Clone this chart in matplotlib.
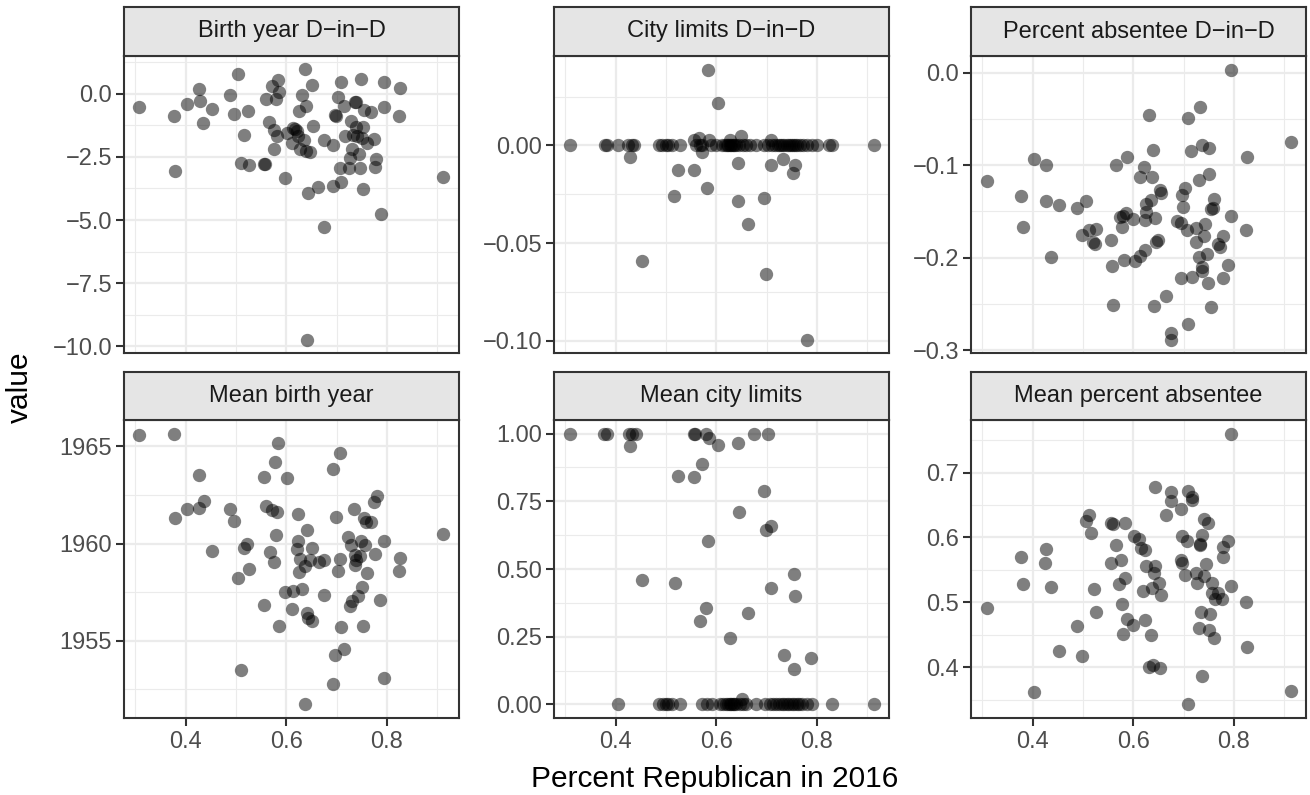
import numpy as np
import matplotlib
matplotlib.use("Agg")
import matplotlib.pyplot as plt
from matplotlib.ticker import FixedLocator, FuncFormatter

plt.rcParams['font.family'] = ['Liberation Sans', 'DejaVu Sans']

# --- data: one (x, value) list per facet, x = percent Republican in 2016 ---
birth_did_x = [0.308, 0.377, 0.380, 0.403, 0.426, 0.428, 0.435, 0.452, 0.488, 0.505,
               0.497, 0.524, 0.517, 0.511, 0.526, 0.556, 0.558, 0.560, 0.571, 0.584,
               0.586, 0.579, 0.566, 0.576, 0.582, 0.576, 0.598, 0.601, 0.614, 0.617,
               0.621, 0.611, 0.624, 0.635, 0.627, 0.640, 0.648, 0.637, 0.652, 0.631,
               0.639, 0.626, 0.654, 0.675, 0.693, 0.644, 0.664, 0.693, 0.708, 0.675,
               0.642, 0.708, 0.748, 0.703, 0.714, 0.736, 0.738, 0.697, 0.699, 0.754,
               0.769, 0.729, 0.739, 0.752, 0.716, 0.733, 0.741, 0.751, 0.760, 0.774,
               0.731, 0.745, 0.726, 0.706, 0.725, 0.747, 0.777, 0.779, 0.752, 0.788,
               0.794, 0.827, 0.794, 0.825, 0.912]
birth_did_y = [-0.52, -0.89, -3.05, -0.38, 0.20, -0.26, -1.17, -0.60, -0.04, 0.81,
               -0.79, -0.66, -1.64, -2.75, -2.82, -2.77, -2.77, -0.20, 0.31, 0.55,
               0.09, -0.20, -1.10, -1.44, -1.65, -2.18, -3.32, -1.55, -1.35, -1.38,
               -1.45, -1.94, -1.68, -1.81, -2.20, -2.27, -2.32, 0.97, 0.34, -0.04,
               -0.46, -0.67, -1.28, -1.81, -2.01, -3.94, -3.71, -3.67, -3.51, -5.26,
               -9.74, 0.48, 0.59, -0.14, -0.46, -0.30, -0.32, -0.83, -0.86, -0.63,
               -0.72, -1.06, -1.32, -1.32, -1.68, -1.61, -1.68, -1.74, -1.94, -1.78,
               -2.20, -2.40, -2.56, -2.92, -2.92, -2.95, -2.90, -2.60, -3.77, -4.78,
               0.48, 0.25, -0.50, -0.89, -3.28]

city_did_x = [0.310, 0.379, 0.383, 0.405, 0.425, 0.432, 0.436, 0.487, 0.493, 0.500,
              0.505, 0.512, 0.529, 0.560, 0.568, 0.572, 0.590, 0.600, 0.612, 0.617,
              0.621, 0.624, 0.627, 0.630, 0.633, 0.636, 0.640, 0.645, 0.653, 0.660,
              0.668, 0.680, 0.695, 0.703, 0.710, 0.716, 0.722, 0.727, 0.731, 0.735,
              0.740, 0.745, 0.748, 0.752, 0.756, 0.760, 0.766, 0.772, 0.780, 0.790,
              0.800, 0.825, 0.830, 0.913,
              0.555, 0.565, 0.585, 0.628, 0.650, 0.709,
              0.428, 0.571, 0.733, 0.453, 0.525, 0.517, 0.556, 0.581, 0.643, 0.644,
              0.664, 0.695, 0.709, 0.699, 0.583, 0.603, 0.757, 0.752, 0.781]
city_did_y = [0.0] * 54 + [
              0.0030, 0.0039, 0.0030, 0.0030, 0.0047, 0.0030,
              -0.0059, -0.0034, -0.0068, -0.0590, -0.0125, -0.0260, -0.0123, -0.0220,
              -0.0091, -0.0285, -0.0404, -0.0270, -0.0101, -0.0657, 0.0389, 0.0216,
              -0.0100, -0.0140, -0.0993]

absentee_did_x = [0.309, 0.377, 0.381, 0.402, 0.427, 0.426, 0.436, 0.453, 0.488, 0.507,
                  0.498, 0.513, 0.527, 0.520, 0.524, 0.556, 0.557, 0.566, 0.587, 0.573,
                  0.579, 0.585, 0.577, 0.599, 0.581, 0.560, 0.603, 0.613, 0.624, 0.631,
                  0.639, 0.621, 0.613, 0.637, 0.654, 0.655, 0.635, 0.626, 0.626, 0.623,
                  0.644, 0.646, 0.649, 0.641, 0.665, 0.676, 0.676, 0.694, 0.708, 0.717,
                  0.703, 0.696, 0.698, 0.695, 0.687, 0.707, 0.725, 0.724, 0.740, 0.743,
                  0.731, 0.746, 0.736, 0.737, 0.748, 0.754, 0.709, 0.732, 0.714, 0.736,
                  0.750, 0.730, 0.750, 0.760, 0.754, 0.758, 0.769, 0.773, 0.778, 0.788,
                  0.779, 0.794, 0.794, 0.827, 0.825, 0.913]
absentee_did_y = [-0.117, -0.133, -0.167, -0.093, -0.0995, -0.139, -0.199, -0.143, -0.146, -0.139,
                  -0.175, -0.170, -0.169, -0.183, -0.185, -0.181, -0.209, -0.100, -0.0906, -0.156,
                  -0.1545, -0.152, -0.167, -0.158, -0.203, -0.2515, -0.204, -0.198, -0.192, -0.046,
                  -0.083, -0.102, -0.1125, -0.113, -0.127, -0.130, -0.138, -0.142, -0.151, -0.159,
                  -0.157, -0.183, -0.181, -0.2526, -0.2415, -0.281, -0.2885, -0.222, -0.272, -0.221,
                  -0.125, -0.132, -0.1455, -0.162, -0.160, -0.170, -0.168, -0.1825, -0.176, -0.1635,
                  -0.199, -0.196, -0.210, -0.214, -0.227, -0.253, -0.049, -0.037, -0.085, -0.078,
                  -0.081, -0.116, -0.1096, -0.136, -0.147, -0.146, -0.185, -0.188, -0.176, -0.208,
                  -0.222, -0.155, 0.0036, -0.0916, -0.170, -0.0744]

mean_birth_x = [0.308, 0.377, 0.380, 0.403, 0.427, 0.426, 0.436, 0.452, 0.488, 0.497,
                0.505, 0.517, 0.522, 0.526, 0.511, 0.556, 0.560, 0.571, 0.582, 0.577,
                0.584, 0.602, 0.579, 0.567, 0.575, 0.555, 0.586, 0.597, 0.614, 0.631,
                0.612, 0.624, 0.624, 0.621, 0.627, 0.637, 0.626, 0.642, 0.652, 0.648,
                0.665, 0.675, 0.675, 0.642, 0.644, 0.652, 0.637, 0.693, 0.707, 0.698,
                0.707, 0.703, 0.708, 0.696, 0.714, 0.693, 0.723, 0.735, 0.729, 0.749,
                0.756, 0.736, 0.738, 0.746, 0.736, 0.754, 0.758, 0.769, 0.774, 0.780,
                0.761, 0.750, 0.743, 0.731, 0.726, 0.752, 0.777, 0.794, 0.787, 0.794,
                0.827, 0.825, 0.912]
mean_birth_y = [1965.58, 1965.65, 1961.30, 1961.75, 1963.52, 1961.85, 1962.17, 1959.60, 1961.78, 1961.18,
                1958.22, 1959.77, 1959.97, 1958.71, 1953.52, 1963.40, 1961.95, 1961.71, 1961.61, 1964.17,
                1965.17, 1963.35, 1960.45, 1959.58, 1959.05, 1956.84, 1955.77, 1957.52, 1957.56, 1957.64,
                1956.62, 1961.54, 1960.11, 1959.74, 1959.22, 1958.83, 1958.53, 1960.67, 1959.77, 1959.17,
                1959.05, 1959.17, 1957.37, 1956.45, 1956.19, 1956.02, 1951.73, 1963.82, 1964.66, 1961.37,
                1959.22, 1958.58, 1955.72, 1954.27, 1954.56, 1952.79, 1960.32, 1961.76, 1959.91, 1960.14,
                1959.91, 1959.43, 1959.17, 1959.34, 1958.92, 1961.30, 1961.10, 1961.10, 1962.15, 1962.46,
                1958.49, 1957.76, 1957.30, 1957.04, 1956.79, 1955.77, 1959.46, 1960.14, 1957.08, 1953.09,
                1959.26, 1958.58, 1960.49]

mean_city_x = [0.310, 0.378, 0.383, 0.427, 0.432, 0.440, 0.555, 0.558, 0.579, 0.676, 0.702,
               0.586, 0.428, 0.603, 0.643, 0.524, 0.556, 0.571, 0.695, 0.645, 0.698,
               0.709, 0.583, 0.453, 0.518, 0.709, 0.580, 0.567, 0.664, 0.627, 0.735,
               0.755, 0.757, 0.755, 0.789, 0.652,
               0.405, 0.487, 0.495, 0.500, 0.505, 0.512, 0.529, 0.571, 0.581, 0.591,
               0.607, 0.614, 0.620, 0.624, 0.627, 0.630, 0.633, 0.636, 0.640, 0.647,
               0.653, 0.660, 0.680, 0.696, 0.706, 0.712, 0.718, 0.724, 0.730, 0.735,
               0.740, 0.745, 0.750, 0.755, 0.760, 0.765, 0.770, 0.780, 0.790, 0.830,
               0.913]
mean_city_y = [1.0] * 11 + [
               0.984, 0.955, 0.957, 0.966, 0.845, 0.841, 0.887, 0.789, 0.712, 0.645,
               0.657, 0.602, 0.458, 0.449, 0.430, 0.357, 0.307, 0.339, 0.247, 0.184,
               0.480, 0.400, 0.130, 0.170, 0.021] + [0.0] * 41

mean_absentee_x = [0.309, 0.377, 0.381, 0.402, 0.427, 0.425, 0.436, 0.453, 0.488, 0.498,
                   0.506, 0.512, 0.517, 0.523, 0.527, 0.556, 0.556, 0.560, 0.583, 0.566,
                   0.575, 0.583, 0.572, 0.577, 0.587, 0.579, 0.599, 0.601, 0.611, 0.616,
                   0.624, 0.626, 0.620, 0.644, 0.642, 0.637, 0.651, 0.655, 0.623, 0.636,
                   0.631, 0.639, 0.654, 0.644, 0.676, 0.676, 0.665, 0.694, 0.708, 0.717,
                   0.716, 0.697, 0.707, 0.695, 0.697, 0.703, 0.725, 0.727, 0.740, 0.748,
                   0.737, 0.732, 0.733, 0.745, 0.741, 0.756, 0.756, 0.763, 0.769, 0.776,
                   0.735, 0.753, 0.730, 0.750, 0.760, 0.736, 0.709, 0.779, 0.788, 0.779,
                   0.794, 0.794, 0.825, 0.827, 0.913]
mean_absentee_y = [0.4915, 0.570, 0.529, 0.362, 0.582, 0.560, 0.524, 0.426, 0.464, 0.417,
                   0.625, 0.635, 0.607, 0.521, 0.485, 0.561, 0.623, 0.621, 0.622, 0.588,
                   0.566, 0.538, 0.528, 0.497, 0.475, 0.452, 0.466, 0.602, 0.597, 0.584,
                   0.581, 0.556, 0.517, 0.556, 0.546, 0.523, 0.530, 0.512, 0.473, 0.450,
                   0.400, 0.404, 0.399, 0.677, 0.670, 0.656, 0.634, 0.644, 0.671, 0.663,
                   0.658, 0.603, 0.595, 0.565, 0.561, 0.543, 0.546, 0.530, 0.629, 0.622,
                   0.604, 0.589, 0.590, 0.559, 0.541, 0.530, 0.515, 0.505, 0.515, 0.506,
                   0.486, 0.483, 0.460, 0.458, 0.445, 0.387, 0.343, 0.585, 0.595, 0.570,
                   0.760, 0.525, 0.501, 0.431, 0.363]

panel_titles = ["Birth year D\u2212in\u2212D", "City limits D\u2212in\u2212D", "Percent absentee D\u2212in\u2212D",
                "Mean birth year", "Mean city limits", "Mean percent absentee"]
panel_x = [birth_did_x, city_did_x, absentee_did_x, mean_birth_x, mean_city_x, mean_absentee_x]
panel_y = [birth_did_y, city_did_y, absentee_did_y, mean_birth_y, mean_city_y, mean_absentee_y]

# y breaks and label decimals for each facet (free y scales)
y_breaks = [[0.0, -2.5, -5.0, -7.5, -10.0], [0.0, -0.05, -0.10], [0.0, -0.1, -0.2, -0.3],
            [1955, 1960, 1965], [0.0, 0.25, 0.5, 0.75, 1.0], [0.4, 0.5, 0.6, 0.7]]
y_decimals = [1, 2, 1, 0, 2, 1]
x_breaks = [0.4, 0.6, 0.8]
x_minor = [0.3, 0.5, 0.7, 0.9]

# --- layout in pixels ---
W, H = 1310, 795
fig = plt.figure(figsize=(W / 100, H / 100), dpi=100)
col_left = [124, 554, 971]
panel_w = 335
row_top = [56, 420]
panel_h = [297, 298]
strip_h = [49, 48]

grey20 = '#333333'
grid_col = '#EBEBEB'


def px_rect(left, top, width, height):
    return [left / W, 1 - (top + height) / H, width / W, height / H]


def fmt_factory(dec):
    def fmt(v, pos):
        s = f"{v:.{dec}f}"
        if s.startswith('-') and float(s) != 0:
            s = '\u2212' + s[1:]
        elif s.startswith('-'):
            s = s[1:]
        return s
    return fmt


def minor_between(breaks):
    b = sorted(breaks)
    step = b[1] - b[0]
    return [b[0] - step / 2] + [(b[i] + b[i + 1]) / 2 for i in range(len(b) - 1)] + [b[-1] + step / 2]


axes = []
for i in range(6):
    r, c = divmod(i, 3)
    ax = fig.add_axes(px_rect(col_left[c], row_top[r], panel_w, panel_h[r]),
                      sharex=axes[0] if axes else None)
    axes.append(ax)
    ax.set_facecolor('white')
    ax.scatter(panel_x[i], panel_y[i], s=92, color='black', alpha=0.5,
               linewidths=0, zorder=3)

    ax.yaxis.set_major_locator(FixedLocator(y_breaks[i]))
    ax.yaxis.set_minor_locator(FixedLocator(minor_between(y_breaks[i])))
    ax.yaxis.set_major_formatter(FuncFormatter(fmt_factory(y_decimals[i])))
    ax.xaxis.set_major_locator(FixedLocator(x_breaks))
    ax.xaxis.set_minor_locator(FixedLocator(x_minor))
    ax.xaxis.set_major_formatter(FuncFormatter(fmt_factory(1)))

    ax.grid(True, which='major', color=grid_col, linewidth=1.6, zorder=0)
    ax.grid(True, which='minor', color=grid_col, linewidth=0.8, zorder=0)
    ax.set_axisbelow(True)
    for sp in ax.spines.values():
        sp.set_color(grey20)
        sp.set_linewidth(1.5)
        sp.set_zorder(5)

    ax.tick_params(which='major', length=5.5, width=1.5, color=grey20,
                   labelsize=17, labelcolor='#4D4D4D', pad=3)
    ax.tick_params(which='minor', length=0)
    ax.tick_params(axis='x', pad=4)
    if r == 0:
        ax.tick_params(axis='x', which='both', bottom=False, labelbottom=False)

    # facet strip
    sax = fig.add_axes(px_rect(col_left[c], row_top[r] - strip_h[r], panel_w, strip_h[r]))
    sax.set_facecolor('#E5E5E5')
    sax.set_xticks([])
    sax.set_yticks([])
    for sp in sax.spines.values():
        sp.set_color(grey20)
        sp.set_linewidth(1.5)
    sax.text(0.5, 0.5, panel_titles[i], ha='center', va='center',
             fontsize=17, color='#1A1A1A', transform=sax.transAxes)

for ax in axes:
    ax.autoscale_view()

fig.text(715 / W, 1 - 787 / H, "Percent Republican in 2016", ha='center',
         va='baseline', fontsize=21.5, color='black')
fig.text(20 / W, 1 - 387 / H, "value", ha='center', va='center', rotation=90,
         fontsize=21.5, color='black')

fig.savefig("out.png", dpi=100)
